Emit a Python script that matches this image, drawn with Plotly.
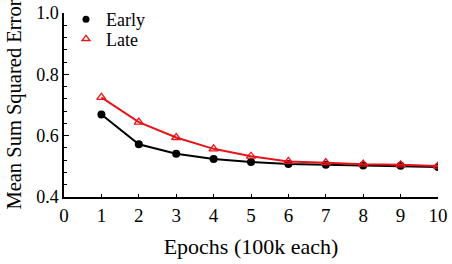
import plotly.graph_objects as go

epochs = [1, 2, 3, 4, 5, 6, 7, 8, 9, 10]
early = [0.669, 0.572, 0.541, 0.524, 0.514, 0.508, 0.505, 0.503, 0.502, 0.498]
late = [0.725, 0.644, 0.594, 0.557, 0.533, 0.516, 0.512, 0.507, 0.505, 0.501]
x_ticks = [0, 1, 2, 3, 4, 5, 6, 7, 8, 9, 10]
y_ticks = [0.4, 0.6, 0.8, 1.0]

FONT = "Liberation Serif"

fig = go.Figure()
fig.add_trace(go.Scatter(x=epochs, y=early, mode="lines+markers", name="Early",
                         line=dict(color="black", width=2),
                         marker=dict(symbol="circle", size=8, color="black"),
                         showlegend=False))
fig.add_trace(go.Scatter(x=epochs, y=late, mode="lines+markers", name="Late",
                         line=dict(color="#e8141a", width=2),
                         marker=dict(symbol="triangle-up-open", size=8, color="#e8141a",
                                     line=dict(width=1.3)),
                         showlegend=False))
# legend entries (markers only), each in its own legend for exact placement
fig.add_trace(go.Scatter(x=[None], y=[None], mode="markers", name="Early", legend="legend",
                         marker=dict(symbol="circle", size=7, color="black")))
fig.add_trace(go.Scatter(x=[None], y=[None], mode="markers", name="Late", legend="legend2",
                         marker=dict(symbol="triangle-up-open", size=7, color="#e8141a",
                                     line=dict(width=1.3))))

leg_common = dict(xref="container", yref="container", xanchor="left", yanchor="middle",
                  bgcolor="rgba(0,0,0,0)", font=dict(size=18, family=FONT),
                  itemwidth=30, borderwidth=0)

fig.update_layout(
    width=452, height=264,
    margin=dict(l=64, r=14, t=13, b=67, autoexpand=False),
    paper_bgcolor="white", plot_bgcolor="white",
    font=dict(family=FONT, size=18, color="black"),
    showlegend=True,
    legend=dict(x=0.146, y=0.926, **leg_common),
    legend2=dict(x=0.146, y=0.852, **leg_common),
    xaxis=dict(range=[0, 10], tickvals=x_ticks, ticktext=[str(v) for v in x_ticks],
               ticks="inside", ticklen=3, tickwidth=1, tickcolor="black",
               showline=True, linecolor="black", linewidth=1.5,
               showgrid=False, zeroline=False, automargin=False,
               title=dict(text="Epochs (100k each)", font=dict(size=22, family=FONT), standoff=14),
               tickfont=dict(size=19, family=FONT)),
    yaxis=dict(range=[0.4, 1.0], tickvals=y_ticks, ticktext=["0.4", "0.6", "0.8", "1.0"],
               ticks="inside", ticklen=5, tickwidth=1, tickcolor="black",
               minor=dict(ticks="inside", ticklen=3, dtick=0.04, tick0=0.4, tickcolor="black", showgrid=False),
               showline=True, linecolor="black", linewidth=1.5,
               showgrid=False, zeroline=False, automargin=False,
               tickfont=dict(size=18, family=FONT)),
    annotations=[dict(text="Mean Sum Squared Error", xref="paper", yref="paper",
                      x=-0.1324, y=0.505, xanchor="center", yanchor="middle",
                      textangle=-90, showarrow=False,
                      font=dict(size=20.5, family=FONT, color="black"))],
)

fig.write_html("out.html")
